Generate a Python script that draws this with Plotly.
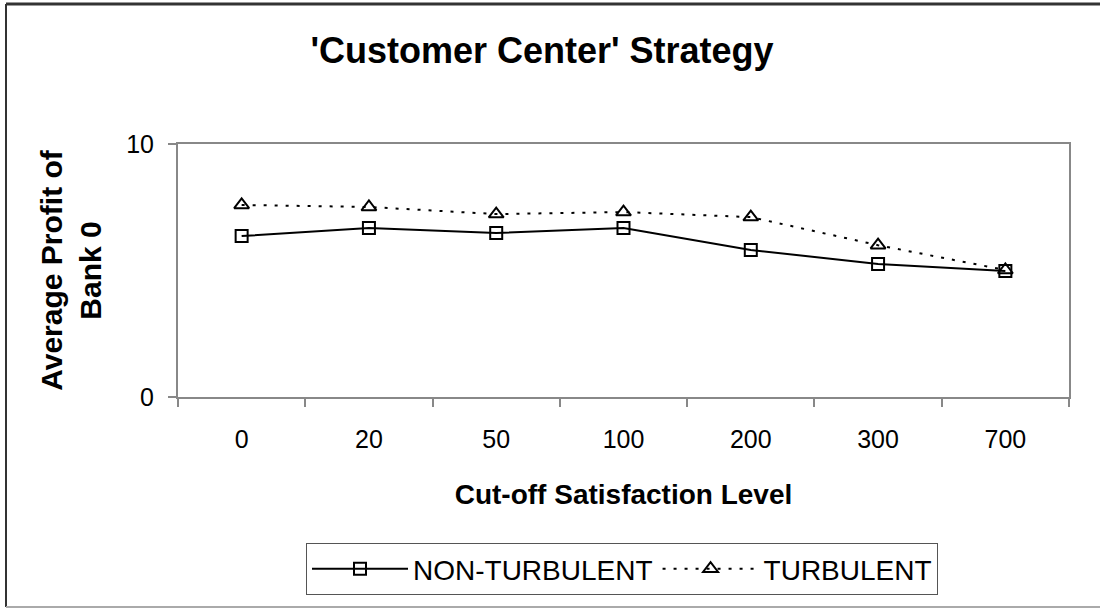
import plotly.graph_objects as go

categories = ["0", "20", "50", "100", "200", "300", "700"]
non_turbulent = [6.36, 6.68, 6.48, 6.68, 5.81, 5.26, 4.98]
turbulent = [7.59, 7.51, 7.23, 7.31, 7.11, 6.00, 5.02]

FONT = "Liberation Sans, Arial, sans-serif"
W, H = 1100, 615
L, R, T, B = 178, 31, 144, 218
pw, ph = W - L - R, H - T - B

def px(x):
    return (x - L) / pw

def py(y):
    return (H - B - y) / ph

fig = go.Figure()
fig.add_trace(go.Scatter(
    x=categories, y=non_turbulent, name="NON-TURBULENT", mode="lines+markers",
    line=dict(color="black", width=2),
    marker=dict(symbol="square-open", size=12, color="black", line=dict(width=2)),
))
fig.add_trace(go.Scatter(
    x=categories, y=turbulent, name="TURBULENT", mode="lines+markers",
    line=dict(color="black", width=2, dash="3px,8px"),
    marker=dict(symbol="triangle-up-open", size=13, color="black", line=dict(width=2)),
))

fig.update_layout(
    width=W, height=H,
    margin=dict(l=L, r=R, t=T, b=B),
    paper_bgcolor="white", plot_bgcolor="white",
    font=dict(family=FONT, color="black", size=25),
    title=dict(text="<b>'Customer Center' Strategy</b>", x=542 / W, xanchor="center",
               y=1 - 50 / H, yanchor="middle", font=dict(size=36, family=FONT)),
    showlegend=True,
    legend=dict(orientation="h", x=px(622), y=py(569), xanchor="center", yanchor="middle",
                xref="paper", yref="paper",
                bordercolor="#555", borderwidth=1, bgcolor="white",
                font=dict(size=28, family=FONT), itemwidth=96),
    xaxis=dict(
        type="category", range=[-0.5, 6.5], showline=True, linecolor="#888", linewidth=2,
        mirror=True, ticks="outside", tickson="boundaries", ticklen=8, tickcolor="#888",
        tickwidth=2, showgrid=False, tickfont=dict(size=25), ticklabelstandoff=19,
        title=dict(text="<b>Cut-off Satisfaction Level</b>", font=dict(size=28), standoff=32),
    ),
    yaxis=dict(
        range=[0, 10], tickvals=[0, 10], showline=True, linecolor="#888", linewidth=2,
        mirror=True, ticks="outside", ticklen=8, tickcolor="#888", tickwidth=2,
        showgrid=False, zeroline=False, tickfont=dict(size=25), ticklabelstandoff=9,
        title=dict(text="<b>Average Profit of<br>Bank 0</b>", font=dict(size=30), standoff=16),
    ),
    shapes=[
        dict(type="line", xref="paper", yref="paper", x0=px(6), x1=px(1100), y0=py(4), y1=py(4),
             line=dict(color="#333", width=3)),
        dict(type="line", xref="paper", yref="paper", x0=px(6), x1=px(6), y0=py(4), y1=py(607),
             line=dict(color="#333", width=2)),
        dict(type="line", xref="paper", yref="paper", x0=px(6), x1=px(1100), y0=py(607), y1=py(607),
             line=dict(color="#aaa", width=2)),
    ],
)

fig.write_html("out.html", config={"displayModeBar": False},
               post_script="document.body.style.margin='0';")
